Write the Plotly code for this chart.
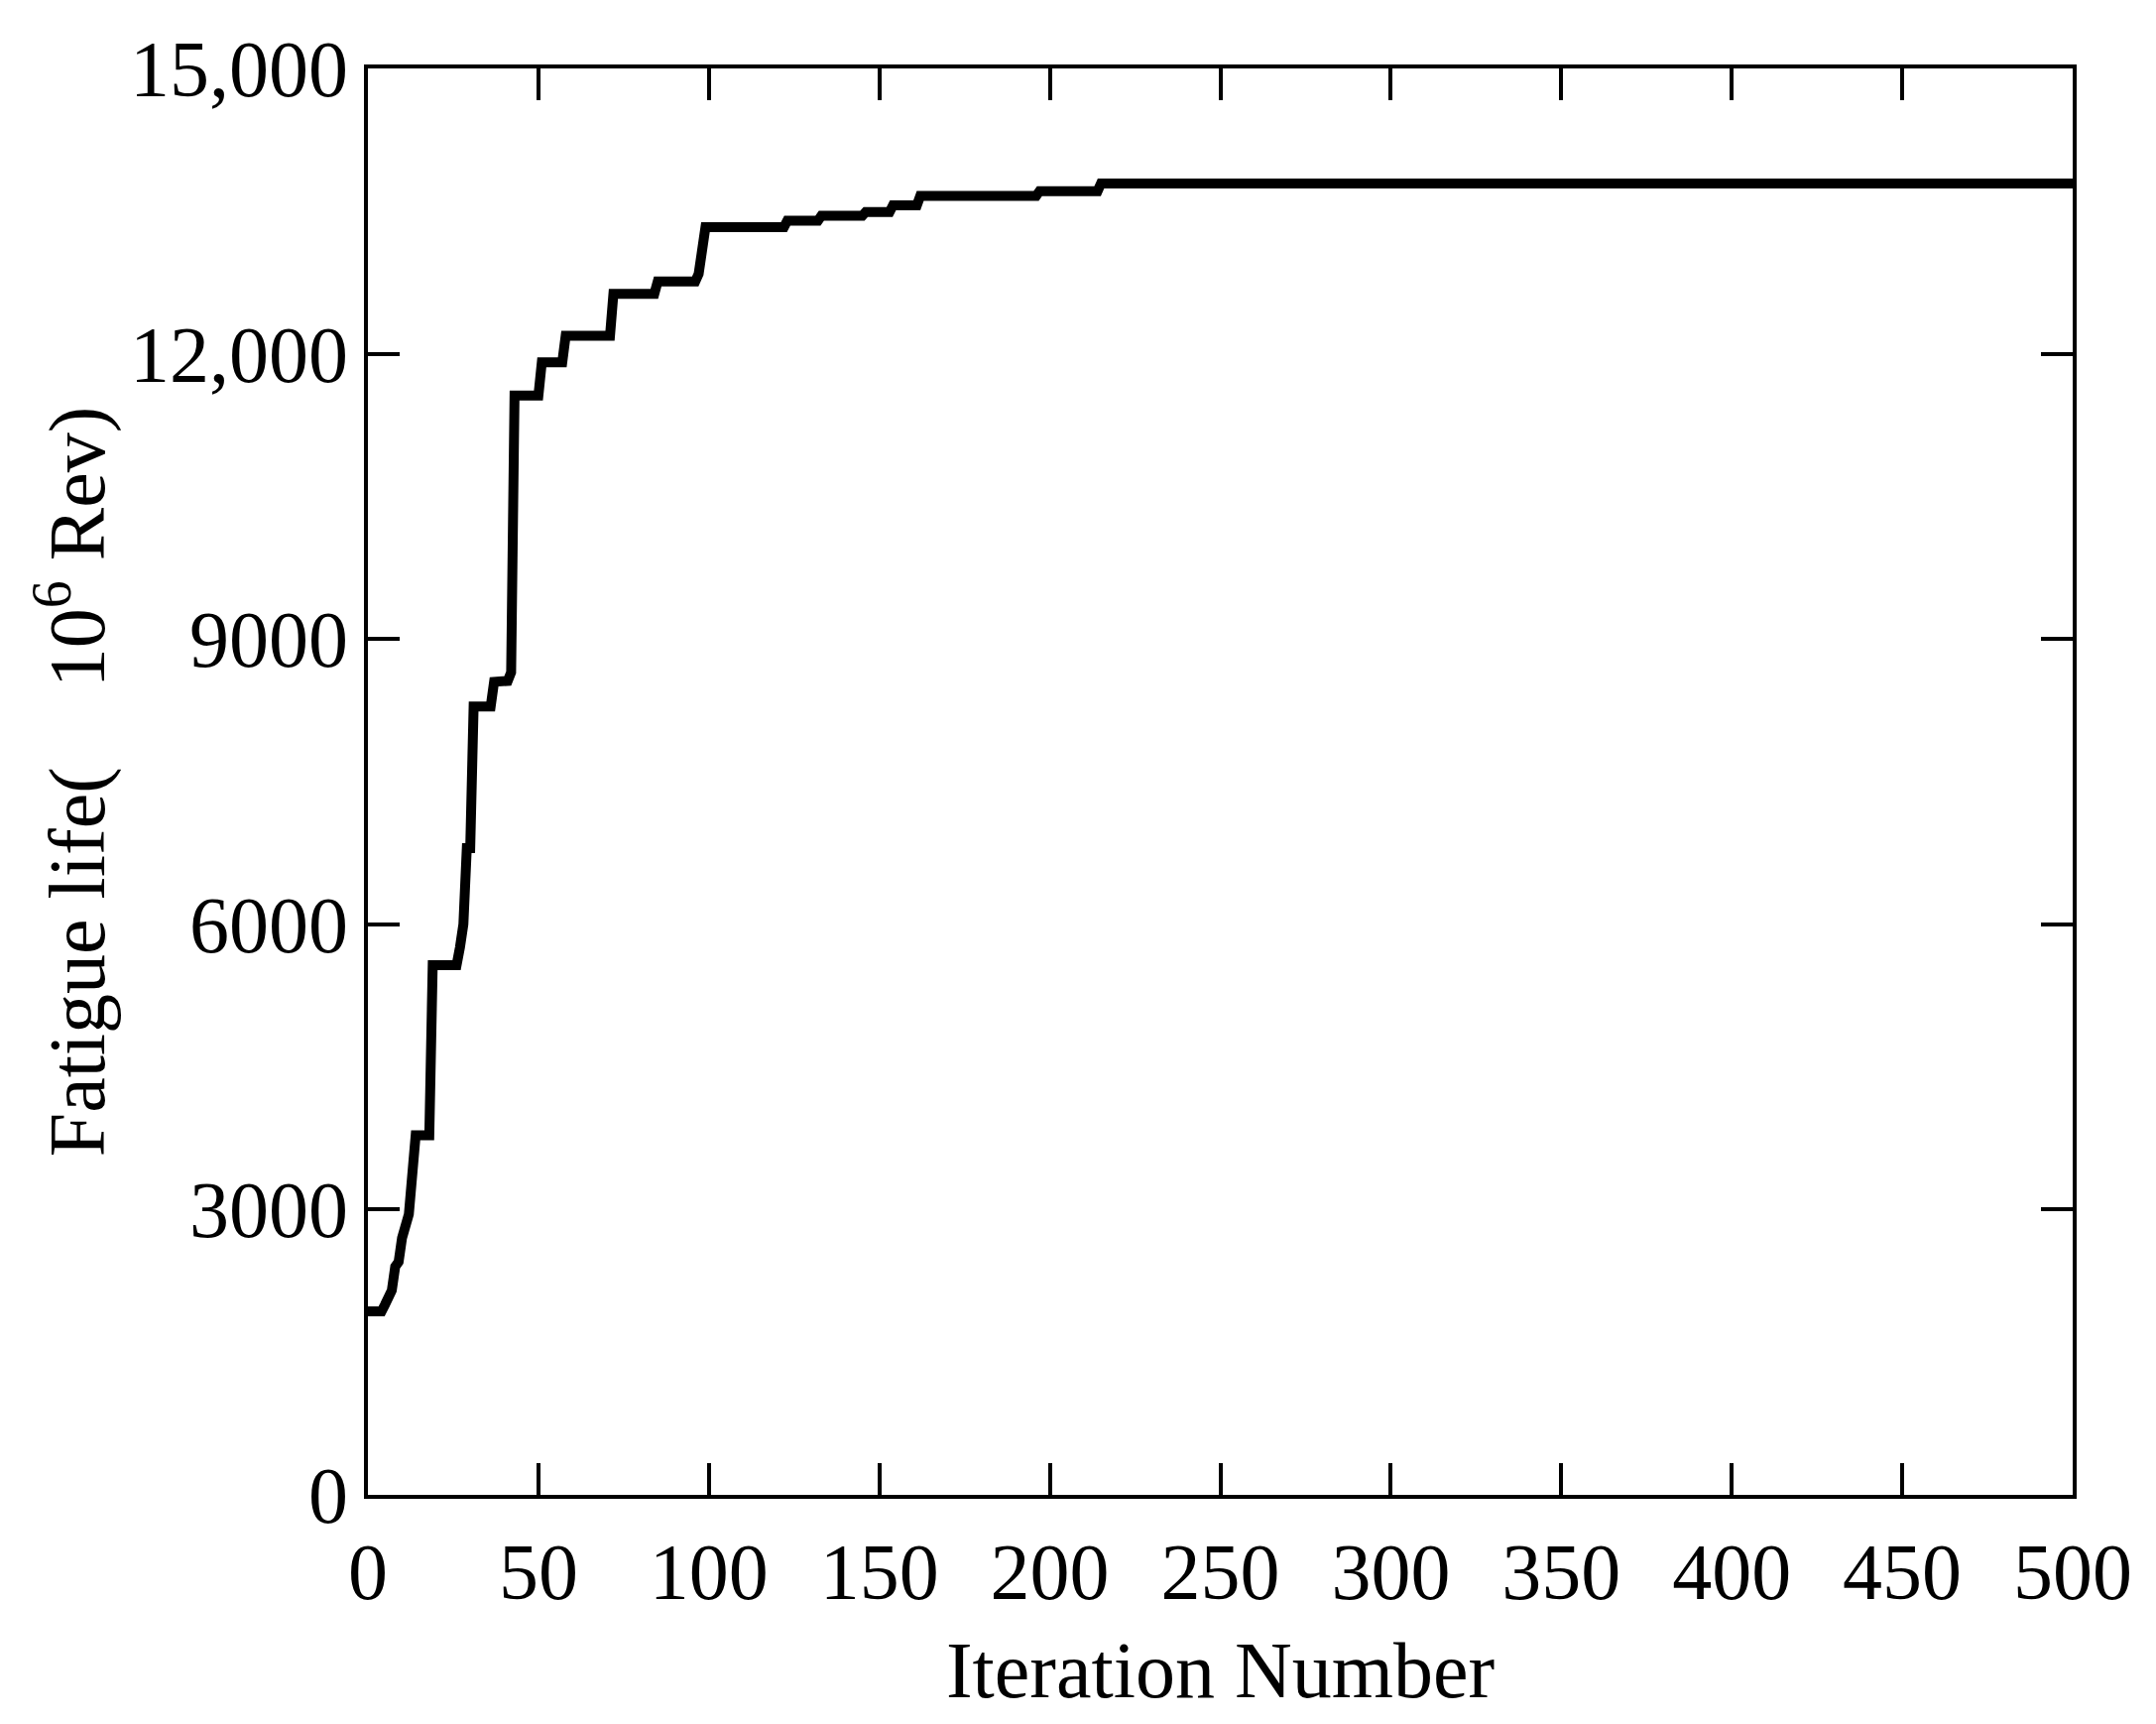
import plotly.graph_objects as go

# convergence history (iteration, best fatigue life)
iterations = [0, 4, 5, 7, 8, 9, 10, 11, 12, 14, 18, 19, 26, 27, 28, 29, 30, 31,
              36, 37, 41, 42, 43, 50, 51, 57, 58, 71, 72, 84, 85, 96, 97, 99,
              122, 123, 132, 133, 145, 146, 153, 154, 161, 162, 196, 197, 214,
              215, 500]
fatigue_life = [1930, 1930, 2000, 2150, 2400, 2450, 2700, 2800, 2950, 3780, 3780,
                5570, 5570, 5760, 6000, 6800, 6800, 8290, 8290, 8550, 8560, 8650,
                11560, 11560, 11910, 11910, 12190, 12190, 12630, 12630, 12760,
                12760, 12840, 13330, 13330, 13400, 13400, 13450, 13450, 13490,
                13490, 13560, 13560, 13660, 13660, 13710, 13710, 13790, 13790]

x_ticks = list(range(0, 501, 50))
y_ticks = [0, 3000, 6000, 9000, 12000, 15000]
y_ticktext = ["0", "3000", "6000", "9000", "12,000", "15,000"]

FONT = "Liberation Serif, Times New Roman, serif"

fig = go.Figure()

fig.add_trace(go.Scatter(
    x=iterations,
    y=fatigue_life,
    mode="lines",
    line=dict(color="black", width=10),
    showlegend=False
))

axis_style = dict(
    showline=True,
    linecolor="black",
    linewidth=4,
    mirror="ticks",
    ticks="inside",
    ticklen=32,
    tickwidth=4,
    tickcolor="black",
    showgrid=False,
    zeroline=False,
    tickfont=dict(family=FONT, size=80, color="black"),
)

fig.update_layout(
    width=2174,
    height=1738,
    paper_bgcolor="white",
    plot_bgcolor="white",
    margin=dict(l=363, r=92, t=61, b=239),
    font=dict(family=FONT, color="black"),
    xaxis=dict(
        range=[0, 500],
        tickvals=x_ticks,
        ticklabelstandoff=5,
        title=dict(text="Iteration Number", font=dict(family=FONT, size=80), standoff=28),
        **axis_style
    ),
    yaxis=dict(
        range=[0, 15000],
        tickvals=y_ticks,
        ticktext=y_ticktext,
        title=dict(text="Fatigue life(\u00a0\u00a0\u00a0\u00a010<sup>6</sup> Rev)",
                   font=dict(family=FONT, size=80), standoff=0),
        **axis_style
    ),
)

fig.write_html("out.html")
